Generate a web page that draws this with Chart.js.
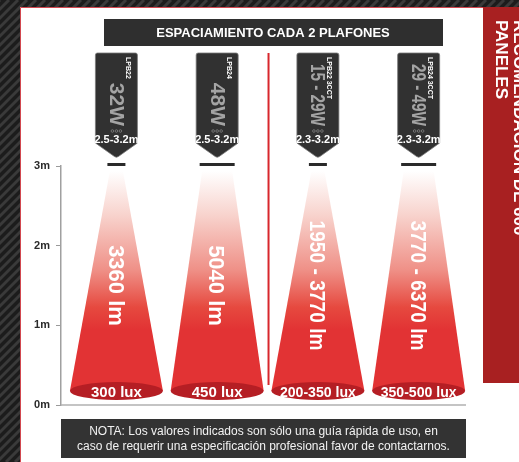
<!DOCTYPE html>
<html><head><meta charset="utf-8">
<script src="https://cdn.jsdelivr.net/npm/chart.js@4.4.1/dist/chart.umd.min.js"></script>
<style>html,body{margin:0;padding:0;background:#1c1c1c;overflow:hidden}#wrap{width:519px;height:462px;position:relative}</style>
</head><body><div id="wrap"><canvas id="c"></canvas></div>
<script>
// ---- data ----
const categories = ['LPB22', 'LPB24', 'LPB22 3CCT', 'LPB24 3CCT'];
const wattage = ['32W', '48W', '15 - 29W', '29 - 49W'];
const heightRange = ['2.5-3.2m', '2.5-3.2m', '2.3-3.2m', '2.3-3.2m'];
const lumens = ['3360 lm', '5040 lm', '1950 - 3770 lm', '3770 - 6370 lm'];
const lux = ['300 lux', '450 lux', '200-350 lux', '350-500 lux'];
const mountHeight = [3, 3, 3, 3];
const yTickLabels = ['0m', '1m', '2m', '3m'];
const titleText = 'ESPACIAMIENTO CADA 2 PLAFONES';
const sideText = ['RECOMENDACIÓN DE 600', 'PANELES'];
const noteLines = ['NOTA: Los valores indicados son sólo una guía rápida de uso, en',
                   'caso de requerir una especificación profesional favor de contactarnos.'];

const FONT = '"Liberation Sans", Arial, Helvetica, sans-serif';

function rotText(ctx, text, cx, y, o) {
  ctx.save();
  ctx.translate(cx, y);
  ctx.rotate(Math.PI / 2);
  ctx.font = (o.weight || 'bold') + ' ' + o.size + 'px ' + FONT;
  ctx.fillStyle = o.color;
  ctx.textAlign = o.align || 'center';
  ctx.textBaseline = 'alphabetic';
  const cap = o.size * 0.716;
  if (o.maxWidth) ctx.fillText(text, 0, cap / 2, o.maxWidth);
  else ctx.fillText(text, 0, cap / 2);
  ctx.restore();
}

const backgroundPlugin = {
  id: 'bgPanel',
  beforeDraw(chart) {
    const ctx = chart.ctx, W = chart.width, H = chart.height;
    ctx.save();
    ctx.fillStyle = '#1c1c1c';
    ctx.fillRect(0, 0, W, H);
    ctx.strokeStyle = '#3a3a3a';
    ctx.lineWidth = 3;
    for (let k = -H; k < W + H; k += 9) {
      ctx.beginPath(); ctx.moveTo(k, H); ctx.lineTo(k + H, 0); ctx.stroke();
    }
    ctx.fillStyle = '#ffffff';
    ctx.fillRect(20, 7, W - 20, H - 7);
    ctx.strokeStyle = '#d2474f';
    ctx.lineWidth = 1;
    ctx.beginPath(); ctx.moveTo(20.5, H); ctx.lineTo(20.5, 7.5); ctx.lineTo(W, 7.5); ctx.stroke();
    // side red box
    ctx.fillStyle = '#a82021';
    ctx.fillRect(483, 7, W - 483, 376);
    rotText(ctx, sideText[0], 520, 20, {size: 17, color: '#ffffff', align: 'left'});
    rotText(ctx, sideText[1], 502, 20, {size: 17, color: '#ffffff', align: 'left'});
    // title box
    ctx.fillStyle = '#2f2f2f';
    ctx.fillRect(104, 19, 339, 27);
    ctx.fillStyle = '#ffffff';
    ctx.font = 'bold 13px ' + FONT;
    ctx.textAlign = 'center';
    ctx.textBaseline = 'middle';
    ctx.fillText(titleText, 273, 33.5);
    ctx.restore();
  }
};

const conePlugin = {
  id: 'cones',
  beforeDatasetsDraw(chart, args, opts) {
    const ctx = chart.ctx, xs = chart.scales.x, ys = chart.scales.y, area = chart.chartArea;
    const y0 = ys.getPixelForValue(0);
    ctx.save();
    // baseline
    ctx.strokeStyle = '#b0b0b0'; ctx.lineWidth = 1.5;
    ctx.beginPath(); ctx.moveTo(area.left, y0); ctx.lineTo(area.right, y0); ctx.stroke();
    const cxs = categories.map((c, i) => xs.getPixelForValue(i));
    // separator
    const sepX = (cxs[1] + cxs[2]) / 2 + 1;
    ctx.strokeStyle = '#d8262c'; ctx.lineWidth = 2;
    ctx.beginPath(); ctx.moveTo(sepX, 53); ctx.lineTo(sepX, ys.getPixelForValue(0.25)); ctx.stroke();

    categories.forEach((cat, i) => {
      const cx = cxs[i];
      const yTop = ys.getPixelForValue(mountHeight[i]);
      const fw = opts.fixtureWidths[i];
      // badge
      const l = cx - 21, r = cx + 21, t = 53, b = 143, tip = 158;
      ctx.beginPath();
      ctx.moveTo(l + 2, t); ctx.lineTo(r - 2, t); ctx.quadraticCurveTo(r, t, r, t + 2);
      ctx.lineTo(r, b); ctx.lineTo(cx + 2, tip - 1.5); ctx.quadraticCurveTo(cx, tip, cx - 2, tip - 1.5);
      ctx.lineTo(l, b); ctx.lineTo(l, t + 2); ctx.quadraticCurveTo(l, t, l + 2, t); ctx.closePath();
      ctx.fillStyle = '#313131'; ctx.fill();
      ctx.strokeStyle = '#7a7a7a'; ctx.lineWidth = 0.8; ctx.stroke();
      rotText(ctx, cat, cx + 12, 57, {size: 7, color: '#ffffff', align: 'left'});
      rotText(ctx, wattage[i], cx + 1, 126, {size: 21, weight: 'bold', color: '#a4a4a4', align: 'right', maxWidth: 62});
      ctx.strokeStyle = '#8a8a8a'; ctx.lineWidth = 0.7;
      for (let d = -1; d <= 1; d++) {
        ctx.beginPath(); ctx.arc(cx + d * 4, 131, 1.3, 0, Math.PI * 2); ctx.stroke();
      }
      ctx.fillStyle = '#ffffff';
      ctx.font = 'bold 11px ' + FONT;
      ctx.textAlign = 'center'; ctx.textBaseline = 'alphabetic';
      ctx.fillText(heightRange[i], cx, 142.5, 44);
      // fixture
      ctx.fillStyle = '#2a2a2a';
      ctx.fillRect(cx - fw / 2, yTop - 3, fw, 3);
      // cone
      const cTop = yTop + 5, cBot = y0 - 14, tw = (fw - 5) / 2, bw = 46.5;
      const g = ctx.createLinearGradient(0, cTop, 0, cBot);
      g.addColorStop(0, '#ffffff');
      g.addColorStop(0.2, '#f8d3cd');
      g.addColorStop(0.45, '#ef9087');
      g.addColorStop(0.62, '#e6493f');
      g.addColorStop(0.72, '#e23334');
      g.addColorStop(1, '#e23334');
      ctx.beginPath();
      ctx.moveTo(cx - tw, cTop); ctx.lineTo(cx + tw, cTop);
      ctx.lineTo(cx + bw, cBot); ctx.lineTo(cx - bw, cBot); ctx.closePath();
      ctx.fillStyle = g; ctx.fill();
      ctx.beginPath(); ctx.ellipse(cx, cBot, bw, 9, 0, 0, Math.PI * 2);
      ctx.fillStyle = '#b51e24'; ctx.fill();
      ctx.fillStyle = '#ffffff';
      ctx.font = 'bold 15px ' + FONT;
      ctx.textAlign = 'center'; ctx.textBaseline = 'alphabetic';
      ctx.fillText(lux[i], cx, cBot + 5.5, 76);
      rotText(ctx, lumens[i], cx, ys.getPixelForValue(1.5), {size: 22, color: '#ffffff', maxWidth: 130});
    });
    // note box
    ctx.fillStyle = '#333333';
    ctx.fillRect(area.left, 419, area.right - area.left, 39);
    ctx.fillStyle = '#f2f2f2';
    ctx.font = '12px ' + FONT;
    ctx.textAlign = 'center'; ctx.textBaseline = 'middle';
    const mid = (area.left + area.right) / 2;
    ctx.fillText(noteLines[0], mid, 432, 380);
    ctx.fillText(noteLines[1], mid, 447, 392);
    ctx.restore();
  }
};

new Chart(document.getElementById('c'), {
  type: 'bar',
  data: {
    labels: categories,
    datasets: [{
      data: mountHeight.map((h, i) => ({x: i, y: h})),
      backgroundColor: 'rgba(0,0,0,0)',
      borderWidth: 0
    }]
  },
  options: {
    responsive: true,
    maintainAspectRatio: false,
    animation: false,
    layout: {padding: {left: 0, top: 166, right: 53, bottom: 57}},
    plugins: {
      legend: {display: false},
      tooltip: {enabled: false},
      cones: {fixtureWidths: [18, 35, 18, 35]}
    },
    scales: {
      x: {type: 'linear', min: -0.55, max: 3.47, offset: false, grid: {offset: false}, display: false},
      y: {
        min: 0, max: 3,
        ticks: {stepSize: 1, padding: 6, color: '#2a2a2a', font: {family: FONT, size: 11, weight: 'bold'},
                callback: v => yTickLabels[v]},
        grid: {drawOnChartArea: false, drawTicks: true, tickLength: 5, color: '#9a9a9a', lineWidth: 1},
        border: {display: true, color: '#a0a0a0', width: 1.5},
        afterFit: s => { s.width = 61; }
      }
    }
  },
  plugins: [backgroundPlugin, conePlugin]
});
</script>
</body></html>
